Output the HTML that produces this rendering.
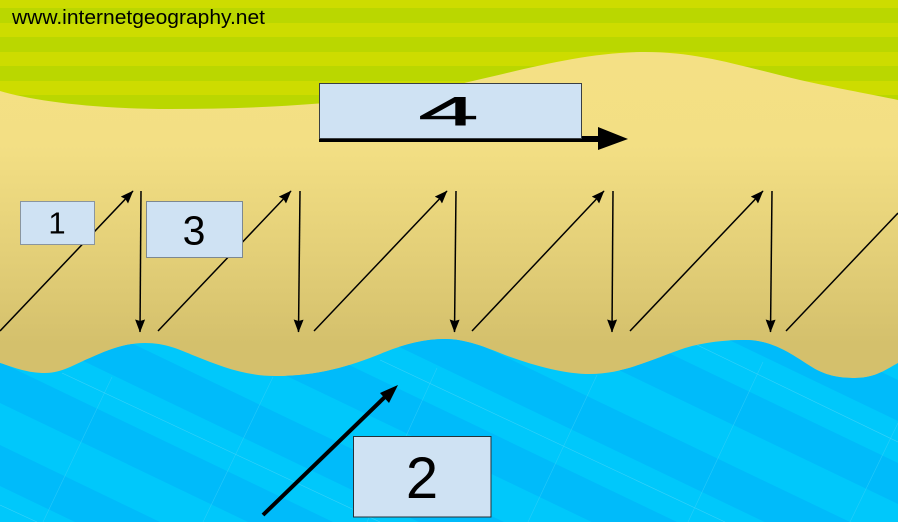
<!DOCTYPE html>
<html>
<head>
<meta charset="utf-8">
<style>
html,body{margin:0;padding:0;background:#fff;width:898px;height:522px;overflow:hidden}
svg{display:block;width:898px;height:522px;overflow:hidden}
text{font-family:"Liberation Sans",sans-serif;fill:#000}
</style>
</head>
<body>
<svg xmlns="http://www.w3.org/2000/svg" width="898" height="522" viewBox="0 0 898 522">
<defs>
<linearGradient id="sand" x1="0" y1="0" x2="0" y2="1">
<stop offset="0" stop-color="#f4e085"/>
<stop offset="0.27" stop-color="#f3df84"/>
<stop offset="0.6" stop-color="#e2ce77"/>
<stop offset="0.84" stop-color="#d4c06c"/>
<stop offset="1" stop-color="#d4c06c"/>
</linearGradient>
<marker id="a" viewBox="0 0 13 10" refX="12.5" refY="5" markerUnits="userSpaceOnUse" markerWidth="13" markerHeight="10" orient="auto"><path d="M0,0 L13,5 L0,10 L1.5,5 Z" fill="#000"/></marker>
<clipPath id="w"><path d="M0,363 C15,368 28,373 45,373 C62,373 75,364 90,358 C108,350 125,343 145,343 C165,343 178,349 195,356 C220,366 245,376 275,376 C320,376 350,366 385,352 C405,344 425,339 445,339 C465,339 485,347 505,355 C535,366 565,374 590,374 C625,374 655,358 685,348 C705,342 725,340 745,340 C775,340 795,357 815,369 C828,376 840,378 855,378 C875,378 885,370 898,363 L898,522 L0,522 Z"/></clipPath>
</defs>

<!-- grass -->
<rect width="898" height="130" fill="#cddc00"/>
<g fill="#bad700">
<rect y="8" width="898" height="15"/>
<rect y="37" width="898" height="15"/>
<rect y="66" width="898" height="15"/>
<rect y="95" width="898" height="15"/>
</g>

<!-- sand -->
<path fill="url(#sand)" d="M0,91 C30,100 90,109 170,109 C260,109 340,104 420,92 C490,80 570,52 645,52 C700,52 740,66 800,80 C840,89 870,94 898,100 L898,400 L0,400 Z"/>

<!-- water -->
<g clip-path="url(#w)">
<rect y="330" width="898" height="192" fill="#00c8fb"/>
<g fill="#00bbfa">
<polygon points="793.75,330 898,380 898,421 708.3,330"/>
<polygon points="620.8,330 898,463 898,504 535.4,330"/>
<polygon points="449.2,330 850,522 764.6,522 363.8,330"/>
<polygon points="276,330 677,522 591.7,522 190.6,330"/>
<polygon points="104.2,330 504,522 418.75,522 18.75,330"/>
<polygon points="0,362 333,522 248,522 0,403"/>
<polygon points="0,445 160,522 75,522 0,486"/>
</g>
<g stroke="#5cd9f8" stroke-width="0.6" fill="none" opacity="0.6">
<path d="M62,373 L380,522"/>
<path d="M380,360 L725,522"/>
<path d="M693,343 L898,442"/>
<path d="M0,505 L37,522"/>
</g>
<g stroke="#3fd2f8" stroke-width="0.6" fill="none" opacity="0.6">
<path d="M112,377 L43,522"/>
<path d="M273,377 L203,522"/>
<path d="M437,368 L367,522"/>
<path d="M597,375 L528,522"/>
<path d="M763,362 L688,522"/>
<path d="M898,423 L850,522"/>
</g>
</g>

<!-- small arrows -->
<g stroke="#000" stroke-width="1.5" fill="none">
<path d="M0,331 L133,191" marker-end="url(#a)"/>
<path d="M158,331 L291,191" marker-end="url(#a)"/>
<path d="M314,331 L447,191" marker-end="url(#a)"/>
<path d="M472,331 L604,191" marker-end="url(#a)"/>
<path d="M630,331 L763,191" marker-end="url(#a)"/>
<path d="M786,331 L898,213"/>
<path d="M141,191 L140,332" marker-end="url(#a)"/>
<path d="M300,191 L298.5,332" marker-end="url(#a)"/>
<path d="M456,191 L454.5,332" marker-end="url(#a)"/>
<path d="M613,191 L612,332" marker-end="url(#a)"/>
<path d="M772,191 L770.5,332" marker-end="url(#a)"/>
</g>

<!-- big arrow 4 -->
<rect x="319" y="136" width="281" height="6" fill="#000"/>
<path d="M598,127 L628,139 L598,150 Z" fill="#000"/>

<!-- big arrow 2 -->
<path d="M263,515 L388,394" stroke="#000" stroke-width="4" fill="none"/>
<path d="M398,385 L389,403 L380,393 Z" fill="#000"/>

<!-- boxes -->
<rect x="20.5" y="201.5" width="74" height="43" fill="#cfe2f3" stroke="#8a959e"/>
<rect x="146.5" y="201.5" width="96" height="56" fill="#cfe2f3" stroke="#7d8890"/>
<rect x="319.5" y="83.5" width="262" height="55" fill="#cfe2f3" stroke="#3a3f42"/>
<rect x="353.5" y="436.5" width="137.5" height="80.5" fill="#cfe2f3" stroke="#263238"/>

<!-- labels -->
<text x="12" y="24" font-size="20" textLength="253" lengthAdjust="spacingAndGlyphs">www.internetgeography.net</text>
<text x="57" y="233.5" font-size="31" text-anchor="middle">1</text>
<text x="194" y="244.5" font-size="41" text-anchor="middle">3</text>
<text x="422" y="498" font-size="58" text-anchor="middle">2</text>
<text transform="translate(448.5,125.5) scale(2.65,1)" font-size="41" text-anchor="middle" style="stroke:#000;stroke-width:0.5">4</text>
</svg>
</body>
</html>
